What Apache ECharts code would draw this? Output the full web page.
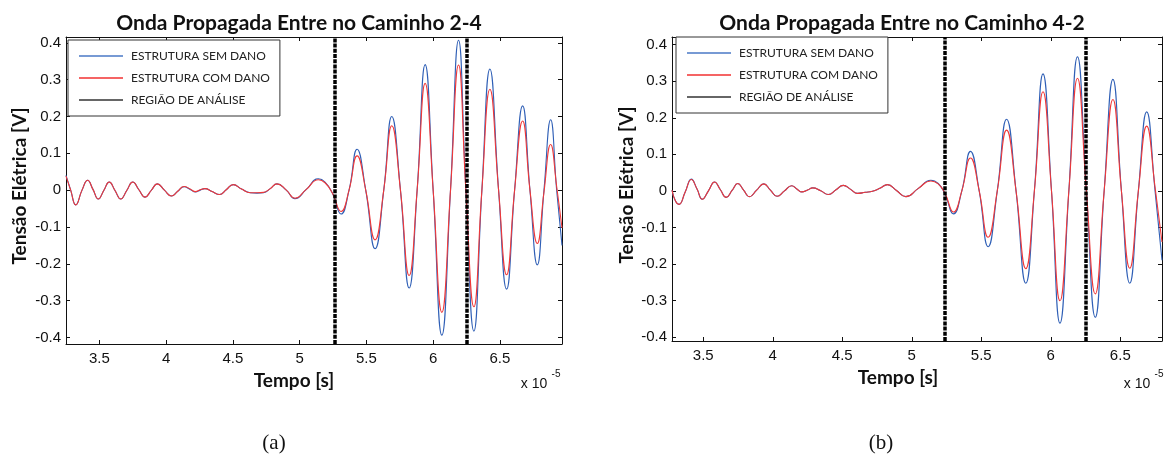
<!DOCTYPE html>
<html>
<head>
<meta charset="utf-8">
<script src="https://cdn.jsdelivr.net/npm/echarts@6/dist/echarts.min.js"></script>
<style>
html,body{margin:0;padding:0;background:#fff;}
#c{width:1166px;height:455px;}
</style>
</head>
<body>
<div id="c"></div>
<script>
// ---------- DATA (time in units of 1e-5 s, voltage in V) ----------
const seriesNames = ['ESTRUTURA SEM DANO', 'ESTRUTURA COM DANO', 'REGIÃO DE ANÁLISE'];
const titleA = 'Onda Propagada Entre no Caminho 2-4';
const titleB = 'Onda Propagada Entre no Caminho 4-2';

const tA = [3.25, 3.285, 3.323, 3.37, 3.412, 3.452, 3.492, 3.533, 3.574, 3.617,
  3.66, 3.705, 3.75, 3.796, 3.842, 3.888, 3.934, 3.987, 4.04, 4.087,
  4.134, 4.18, 4.22, 4.255, 4.29, 4.345, 4.40, 4.45, 4.503, 4.565,
  4.63, 4.68, 4.73, 4.78, 4.83, 4.90, 4.965, 5.05, 5.14, 5.19,
  5.245, 5.31, 5.37, 5.43, 5.495, 5.565, 5.63, 5.69, 5.755, 5.82,
  5.88, 5.94, 6.00, 6.065, 6.13, 6.19, 6.245, 6.305, 6.365, 6.425,
  6.49, 6.55, 6.61, 6.67, 6.725, 6.78, 6.83, 6.88, 6.925, 6.965];
const semA = [0.040, 0.000, -0.040, 0.000, 0.027, 0.002, -0.024, -0.001, 0.022, -0.001,
  -0.024, -0.001, 0.022, 0.001, -0.019, -0.001, 0.017, 0.000, -0.016, -0.003,
  0.009, 0.002, -0.005, 0.000, 0.004, -0.004, -0.012, 0.001, 0.015, 0.003,
  -0.007, -0.008, -0.007, 0.004, 0.017, 0.000, -0.023, 0.002, 0.031, 0.022,
  -0.008, -0.065, 0.000, 0.111, 0.000, -0.159, 0.000, 0.200, 0.000, -0.266,
  0.000, 0.341, 0.000, -0.394, 0.000, 0.407, 0.000, -0.383, 0.000, 0.329,
  0.000, -0.269, 0.000, 0.229, 0.000, -0.203, 0.000, 0.191, 0.000, -0.150];
const comA = [0.038, 0.000, -0.040, 0.000, 0.027, 0.002, -0.024, -0.001, 0.022, -0.001,
  -0.024, -0.001, 0.022, 0.001, -0.019, -0.001, 0.017, 0.000, -0.016, -0.003,
  0.010, 0.003, -0.004, 0.001, 0.004, -0.004, -0.012, 0.001, 0.015, 0.003,
  -0.007, -0.007, -0.006, 0.004, 0.017, 0.000, -0.022, 0.002, 0.028, 0.020,
  -0.008, -0.058, 0.000, 0.093, 0.000, -0.135, 0.000, 0.175, 0.000, -0.232,
  0.000, 0.290, 0.000, -0.332, 0.000, 0.340, 0.000, -0.317, 0.000, 0.274,
  0.000, -0.230, 0.000, 0.188, 0.000, -0.145, -0.005, 0.124, 0.010, -0.103];
const regionA = [5.26, 6.245];

const tB = [3.275, 3.30, 3.325, 3.37, 3.414, 3.455, 3.493, 3.537, 3.581, 3.623,
  3.665, 3.707, 3.748, 3.79, 3.832, 3.884, 3.935, 3.983, 4.031, 4.084,
  4.136, 4.173, 4.21, 4.25, 4.287, 4.345, 4.40, 4.455, 4.507, 4.56,
  4.61, 4.665, 4.717, 4.77, 4.825, 4.89, 4.957, 5.045, 5.137, 5.19,
  5.238, 5.30, 5.36, 5.422, 5.485, 5.549, 5.615, 5.682, 5.75, 5.82,
  5.882, 5.944, 6.005, 6.066, 6.13, 6.192, 6.256, 6.32, 6.384, 6.447,
  6.508, 6.568, 6.63, 6.69, 6.75, 6.80];
const semB = [0.002, -0.028, -0.037, -0.003, 0.032, 0.005, -0.023, 0.000, 0.024, 0.003,
  -0.018, 0.001, 0.020, 0.002, -0.016, 0.002, 0.019, 0.002, -0.015, 0.000,
  0.014, 0.005, -0.003, 0.002, 0.008, 0.000, -0.010, 0.003, 0.015, 0.004,
  -0.007, -0.004, -0.001, 0.007, 0.017, 0.001, -0.016, 0.006, 0.029, 0.020,
  -0.008, -0.063, 0.000, 0.108, 0.000, -0.153, 0.000, 0.196, 0.000, -0.253,
  0.000, 0.320, 0.000, -0.362, 0.000, 0.367, 0.000, -0.346, 0.000, 0.305,
  0.000, -0.253, 0.000, 0.216, 0.000, -0.190];
const comB = [0.002, -0.028, -0.037, -0.003, 0.031, 0.005, -0.023, 0.000, 0.024, 0.003,
  -0.018, 0.001, 0.020, 0.002, -0.016, 0.002, 0.019, 0.002, -0.015, 0.000,
  0.014, 0.005, -0.003, 0.002, 0.008, 0.000, -0.010, 0.003, 0.015, 0.004,
  -0.007, -0.004, -0.001, 0.007, 0.017, 0.001, -0.016, 0.006, 0.027, 0.019,
  -0.006, -0.058, 0.000, 0.090, 0.000, -0.127, 0.000, 0.166, 0.000, -0.213,
  0.000, 0.271, 0.000, -0.301, 0.000, 0.308, 0.000, -0.282, 0.000, 0.250,
  0.000, -0.212, 0.000, 0.177, 0.010, -0.140];
const regionB = [5.238, 6.252];

// ---------- CHART ----------
const BLUE = '#2f5fb6';
const RED = '#f03838';
const TICKFONT = 'Liberation Sans';
const LABELFONT = 'Lato';

function pairs(xs, ys) { return xs.map((x, i) => [x, ys[i]]); }
function fmtX(v) { return Math.abs(v * 2 - Math.round(v * 2)) < 1e-6 ? String(Math.round(v * 2) / 2) : ''; }
function fmtY(v) { return Math.abs(v * 10 - Math.round(v * 10)) < 1e-6 ? String(Math.round(v * 10) / 10) : ''; }

function xAxisPair(grid, min, max) {
  const base = {
    type: 'value', gridIndex: grid, min: min, max: max, minInterval: 0.5, maxInterval: 0.5,
    splitLine: { show: false },
    axisLine: { show: true, onZero: false, lineStyle: { color: '#111', width: 1 } },
    axisTick: { show: true, inside: true, length: 4, lineStyle: { color: '#111' } }
  };
  return [
    Object.assign({}, base, { position: 'bottom',
      axisLabel: { show: true, formatter: fmtX, margin: 7, color: '#111', fontFamily: TICKFONT, fontSize: 15 } }),
    Object.assign({}, base, { position: 'top', axisLabel: { show: false } })
  ];
}
function yAxisPair(grid, min, max) {
  const base = {
    type: 'value', gridIndex: grid, min: min, max: max, minInterval: 0.1, maxInterval: 0.1,
    splitLine: { show: false },
    axisLine: { show: true, onZero: false, lineStyle: { color: '#111', width: 1 } },
    axisTick: { show: true, inside: true, length: 4, lineStyle: { color: '#111' } }
  };
  return [
    Object.assign({}, base, { position: 'left',
      axisLabel: { show: true, formatter: fmtY, margin: 5, color: '#111', fontFamily: TICKFONT, fontSize: 15 } }),
    Object.assign({}, base, { position: 'right', axisLabel: { show: false } })
  ];
}

function waveSeries(name, color, xs, ys, xi, yi) {
  return { name: name, type: 'line', xAxisIndex: xi, yAxisIndex: yi, data: pairs(xs, ys),
    smooth: 0.5, symbol: 'none', showSymbol: false, animation: false,
    lineStyle: { color: color, width: 1.1 }, itemStyle: { color: color } };
}
function regionSeries(xi, yi, lines) {
  return { name: seriesNames[2], type: 'line', xAxisIndex: xi, yAxisIndex: yi, data: [],
    symbol: 'none', animation: false, lineStyle: { color: '#000', width: 1.2 }, itemStyle: { color: '#222' },
    markLine: { silent: true, symbol: 'none', animation: false, label: { show: false },
      lineStyle: { color: '#000', width: 3.5, type: [4, 1.2] },
      data: lines.map(v => ({ xAxis: v })) } };
}
function legendAt(left, top) {
  return { orient: 'vertical', left: left, top: top,
    data: [
      { name: seriesNames[0], itemStyle: { color: '#4a78c6' } },
      { name: seriesNames[1], itemStyle: { color: '#f23030' } },
      { name: seriesNames[2], itemStyle: { color: '#333' } }
    ],
    icon: 'rect', itemWidth: 44, itemHeight: 1.5, itemGap: 8, selectedMode: false,
    textStyle: { fontFamily: LABELFONT, fontSize: 12, color: '#222', lineHeight: 14, padding: [0, 0, 0, 3] },
    borderColor: '#333', borderWidth: 1, borderRadius: 0, backgroundColor: '#fff',
    padding: [9, 10, 9, 11] };
}
function txt(x, y, text, font, extra) {
  return Object.assign({ type: 'text', x: x, y: y, silent: true,
    style: { text: text, font: font, fill: '#111', textAlign: 'center', textVerticalAlign: 'middle' } }, extra || {});
}

const xa = xAxisPair(0, 3.25, 6.965), xb = xAxisPair(1, 3.275, 6.80);
const ya = yAxisPair(0, -0.418, 0.416), yb = yAxisPair(1, -0.411, 0.421);

const option = {
  animation: false,
  backgroundColor: '#fff',
  grid: [
    { left: 66, top: 37, width: 496, height: 307 },
    { left: 672, top: 37, width: 490, height: 304 }
  ],
  xAxis: [xa[0], xa[1], xb[0], xb[1]],
  yAxis: [ya[0], ya[1], yb[0], yb[1]],
  legend: [legendAt(68, 40), legendAt(676, 37)],
  series: [
    waveSeries(seriesNames[0], BLUE, tA, semA, 0, 0),
    waveSeries(seriesNames[1], RED, tA, comA, 0, 0),
    regionSeries(0, 0, regionA),
    waveSeries(seriesNames[0], BLUE, tB, semB, 2, 2),
    waveSeries(seriesNames[1], RED, tB, comB, 2, 2),
    regionSeries(2, 2, regionB)
  ],
  graphic: [
    txt(299, 23, titleA, 'bold 21px Lato'),
    txt(902, 23, titleB, 'bold 21px Lato'),
    txt(294, 381, 'Tempo [s]', 'bold 19px Lato'),
    txt(898, 378, 'Tempo [s]', 'bold 19px Lato'),
    txt(20, 186, 'Tensão Elétrica [V]', 'bold 19px Lato', { rotation: Math.PI / 2 }),
    txt(627, 185, 'Tensão Elétrica [V]', 'bold 19px Lato', { rotation: Math.PI / 2 }),
    txt(534, 384, 'x 10', '14px "Liberation Sans"'),
    txt(556, 374, '-5', '10px "Liberation Sans"'),
    txt(1137, 384, 'x 10', '14px "Liberation Sans"'),
    txt(1159, 374, '-5', '10px "Liberation Sans"'),
    txt(274, 443, '(a)', '21px "Liberation Serif"'),
    txt(881, 443, '(b)', '21px "Liberation Serif"')
  ]
};

const chart = echarts.init(document.getElementById('c'), null, { renderer: 'canvas' });
chart.setOption(option);
</script>
</body>
</html>
